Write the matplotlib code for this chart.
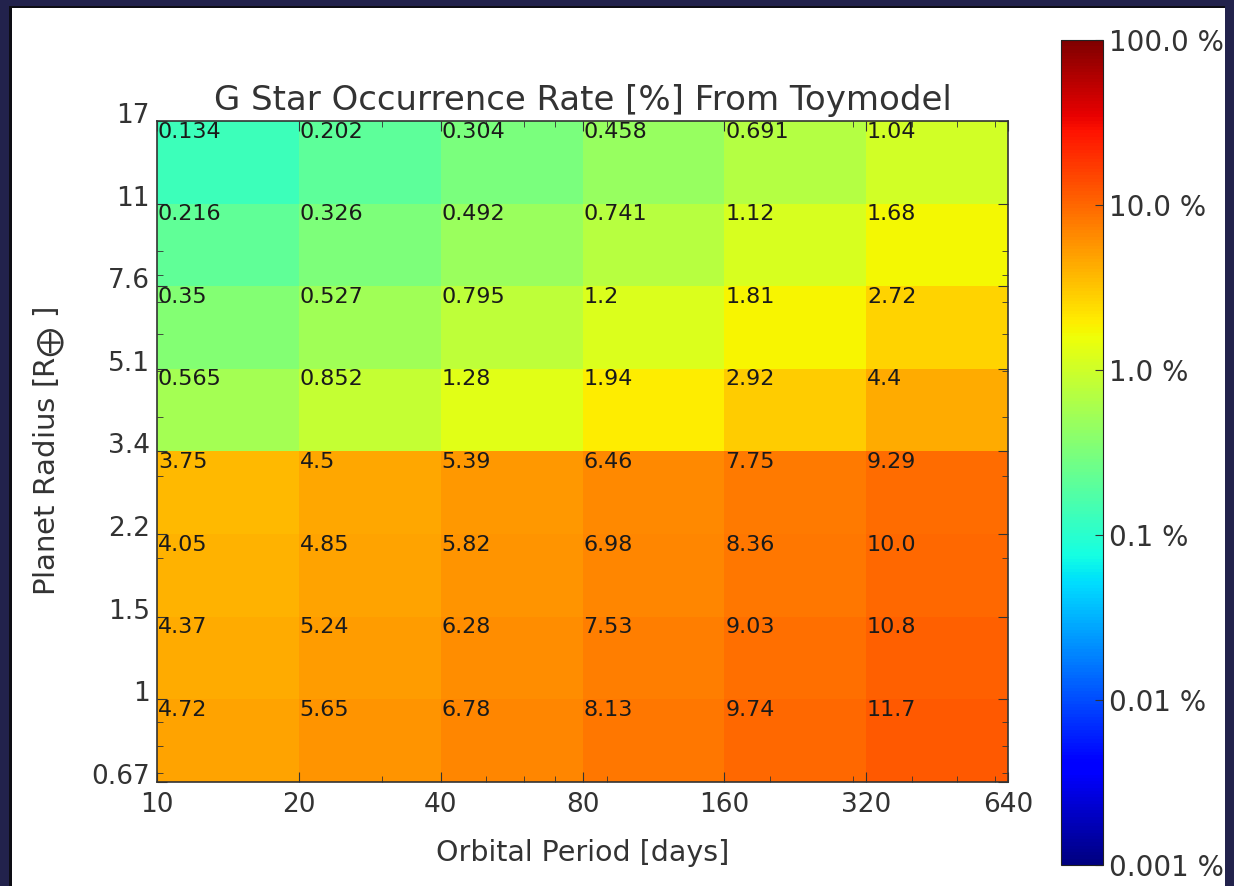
import numpy as np
import matplotlib
matplotlib.use("Agg")
import matplotlib.pyplot as plt
import matplotlib.transforms as mtransforms
from matplotlib.colors import LogNorm
from matplotlib.patches import Rectangle
from matplotlib.ticker import FixedLocator, FixedFormatter, LogLocator, NullFormatter

# bin edges (the radius bins are evenly spaced in log, labels are rounded)
period_edges = [10, 20, 40, 80, 160, 320, 640]
radius_edges = [0.67, 1.004, 1.504, 2.253, 3.375, 5.056, 7.574, 11.35, 17.0]
period_labels = ["10", "20", "40", "80", "160", "320", "640"]
radius_labels = ["0.67", "1", "1.5", "2.2", "3.4", "5.1", "7.6", "11", "17"]

# occurrence rate [%], rows from smallest radius bin to largest
rate = [
    [4.72, 5.65, 6.78, 8.13, 9.74, 11.7],
    [4.37, 5.24, 6.28, 7.53, 9.03, 10.8],
    [4.05, 4.85, 5.82, 6.98, 8.36, 10.0],
    [3.75, 4.5, 5.39, 6.46, 7.75, 9.29],
    [0.565, 0.852, 1.28, 1.94, 2.92, 4.4],
    [0.35, 0.527, 0.795, 1.2, 1.81, 2.72],
    [0.216, 0.326, 0.492, 0.741, 1.12, 1.68],
    [0.134, 0.202, 0.304, 0.458, 0.691, 1.04],
]
rate_labels = [
    ["4.72", "5.65", "6.78", "8.13", "9.74", "11.7"],
    ["4.37", "5.24", "6.28", "7.53", "9.03", "10.8"],
    ["4.05", "4.85", "5.82", "6.98", "8.36", "10.0"],
    ["3.75", "4.5", "5.39", "6.46", "7.75", "9.29"],
    ["0.565", "0.852", "1.28", "1.94", "2.92", "4.4"],
    ["0.35", "0.527", "0.795", "1.2", "1.81", "2.72"],
    ["0.216", "0.326", "0.492", "0.741", "1.12", "1.68"],
    ["0.134", "0.202", "0.304", "0.458", "0.691", "1.04"],
]
cbar_ticks = [0.001, 0.01, 0.1, 1, 10, 100]
cbar_labels = ["0.001 %", "0.01 %", "0.1 %", "1.0 %", "10.0 %", "100.0 %"]

W, H = 1234, 886
fig = plt.figure(figsize=(W / 100, H / 100), dpi=100)
fig.patch.set_facecolor("white")
grey = "#333333"

ax = fig.add_axes([157 / W, 1 - 782 / H, (1008 - 157) / W, (782 - 121) / H])
norm = LogNorm(vmin=0.001, vmax=100)
mesh = ax.pcolormesh(period_edges, radius_edges, np.array(rate), cmap="jet", norm=norm)

ax.set_xscale("log")
ax.set_yscale("log")
ax.set_xlim(period_edges[0], period_edges[-1])
ax.set_ylim(radius_edges[0], radius_edges[-1])

for i in range(len(radius_edges) - 1):
    for j in range(len(period_edges) - 1):
        ax.text(period_edges[j] * 1.004, radius_edges[i + 1] * 0.997, rate_labels[i][j],
                ha="left", va="top", fontsize=16, color="#1a1a1a")

ax.xaxis.set_major_locator(FixedLocator(period_edges))
ax.xaxis.set_major_formatter(FixedFormatter(period_labels))
ax.yaxis.set_major_locator(FixedLocator(radius_edges))
ax.yaxis.set_major_formatter(FixedFormatter(radius_labels))
ax.xaxis.set_minor_locator(LogLocator(base=10, subs=np.arange(2, 10)))
ax.yaxis.set_minor_locator(LogLocator(base=10, subs=np.arange(2, 10)))
ax.xaxis.set_minor_formatter(NullFormatter())
ax.yaxis.set_minor_formatter(NullFormatter())
ax.tick_params(which="both", direction="in", top=True, right=True, color=grey)
ax.tick_params(which="major", length=7, labelsize=19, labelcolor=grey)
ax.tick_params(axis="x", which="major", pad=7)
ax.tick_params(axis="y", which="major", pad=5)
ax.tick_params(which="minor", length=4)
offset = mtransforms.ScaledTranslation(0, 8 / 100, fig.dpi_scale_trans)
for lab in ax.get_yticklabels():
    lab.set_transform(lab.get_transform() + offset)
for s in ax.spines.values():
    s.set_color(grey)
    s.set_linewidth(1.2)

ax.set_title("G Star Occurrence Rate [%] From Toymodel", fontsize=24.5, color=grey, pad=8)
ax.set_xlabel("Orbital Period [days]", fontsize=20.5, color=grey, labelpad=15)
ax.set_ylabel(r"Planet Radius [R$_{\bigoplus}$ ]", fontsize=21, color=grey, labelpad=17)

cax = fig.add_axes([1061 / W, 1 - 865 / H, 42 / W, (865 - 40) / H])
cb = fig.colorbar(mesh, cax=cax)
cb.set_ticks(cbar_ticks)
cb.set_ticklabels(cbar_labels)
cb.ax.minorticks_off()
cb.ax.tick_params(labelsize=20, labelcolor=grey, length=6, direction="in", color=grey, pad=4)
cb.outline.set_edgecolor("#222222")

# screenshot frame
navy = "#22224c"
fig.patches.append(Rectangle((0, 1 - 6 / H), 1, 6 / H, transform=fig.transFigure,
                             facecolor=navy, edgecolor="none", zorder=10))
fig.patches.append(Rectangle((0, 0), 9 / W, 1, transform=fig.transFigure,
                             facecolor=navy, edgecolor="none", zorder=10))
fig.patches.append(Rectangle((1225 / W, 0), 9 / W, 1, transform=fig.transFigure,
                             facecolor=navy, edgecolor="none", zorder=10))
fig.patches.append(Rectangle((9 / W, 1 - 8 / H), 1216 / W, 2 / H, transform=fig.transFigure,
                             facecolor="#0d0d14", edgecolor="none", zorder=10))
fig.patches.append(Rectangle((9 / W, 0), 3 / W, 1 - 6 / H, transform=fig.transFigure,
                             facecolor="#0d0d14", edgecolor="none", zorder=10))

fig.savefig("out.png", dpi=100)
